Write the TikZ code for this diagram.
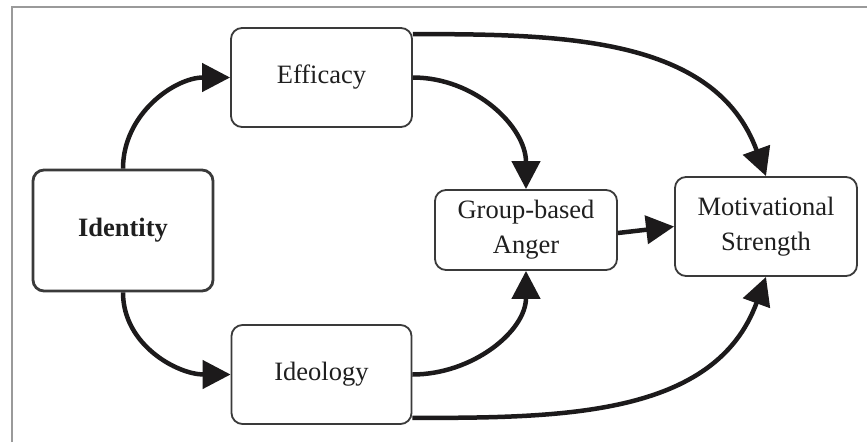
\documentclass[tikz,border=0pt]{standalone}
\usepackage{fontspec}
\setmainfont{Liberation Serif}
\usetikzlibrary{arrows.meta}
\definecolor{boxline}{HTML}{3A3A3A}
\definecolor{arrowc}{HTML}{1C1A1B}
\definecolor{framec}{HTML}{9A9A9A}
\tikzset{
  box/.style={draw=boxline, line width=1.8pt, rounded corners=11pt, fill=white,
    align=center, inner sep=0pt, font=\fontsize{26.5}{35}\selectfont, text=black!88},
  arr/.style={draw=arrowc, line width=4.5pt,
    -{Triangle[length=28pt,width=28pt]}},
}
\begin{document}
\begin{tikzpicture}[x=1pt,y=-1pt]
\useasboundingbox (0,0) rectangle (867,442);
\fill[white] (0,0) rectangle (867,442);
\draw[framec, line width=2pt] (12,442) -- (12,7) -- (867,7);

\node[box, line width=2.8pt, minimum width=180pt, minimum height=121pt, font=\fontsize{26.5}{35}\selectfont\bfseries] (id) at (123,230.5) {Identity};
\node[box, minimum width=181pt, minimum height=99pt] (eff) at (321.5,77.5) {Efficacy};
\node[box, minimum width=180pt, minimum height=99pt] (ideo) at (321.5,374.5) {Ideology};
\node[box, minimum width=182pt, minimum height=80pt] (ang) at (526,230) {Group-based\\Anger};
\node[box, minimum width=182pt, minimum height=99pt] (mot) at (766,226.5) {Motivational\\Strength};

\draw[arr] (id.north) to[out=90,in=180] (eff.west);
\draw[arr] (id.south) to[out=-90,in=180] (ideo.west);
\draw[arr] (eff.east) to[out=0,in=90] (ang.north);
\draw[arr] (ideo.east) to[out=0,in=-90] (ang.south);
\draw[arr] ([yshift=-7pt]eff.north east) to[out=0,in=110] (mot.north);
\draw[arr] ([yshift=7pt]ideo.south east) to[out=0,in=-110] (mot.south);
\draw[arr] ([yshift=-3pt]ang.east) -- (mot.west);
\end{tikzpicture}
\end{document}
